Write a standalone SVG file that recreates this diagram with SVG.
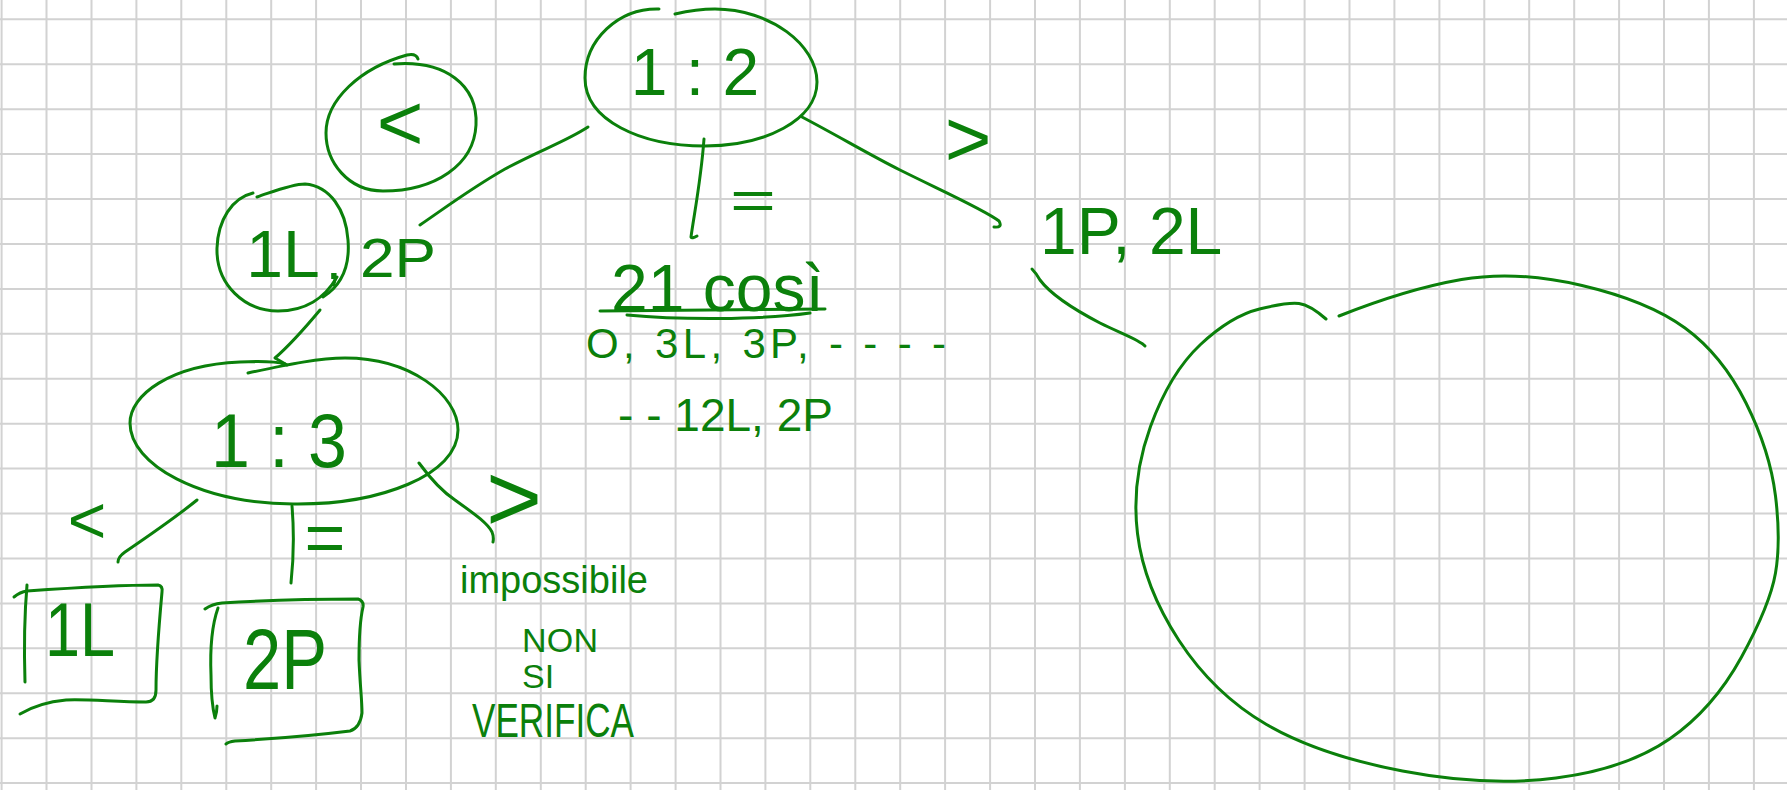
<svg xmlns="http://www.w3.org/2000/svg" width="1787" height="790" viewBox="0 0 1787 790">
<style>
.g{fill:none;stroke:#0b800b;stroke-width:3;stroke-linecap:round;stroke-linejoin:round}
.t{fill:#0b800b;font-family:"Liberation Sans",Arial,sans-serif}
.grid{stroke:#d2d2d2;stroke-width:2;fill:none}
</style>
<rect width="1787" height="790" fill="#ffffff"/>
<path class="grid" d="M1.6 0V790M46.5 0V790M91.5 0V790M136.4 0V790M181.3 0V790M226.3 0V790M271.2 0V790M316.1 0V790M361 0V790M406 0V790M450.9 0V790M495.8 0V790M540.8 0V790M585.7 0V790M630.6 0V790M675.6 0V790M720.5 0V790M765.4 0V790M810.3 0V790M855.3 0V790M900.2 0V790M945.1 0V790M990.1 0V790M1035 0V790M1079.9 0V790M1124.9 0V790M1169.8 0V790M1214.7 0V790M1259.6 0V790M1304.6 0V790M1349.5 0V790M1394.4 0V790M1439.4 0V790M1484.3 0V790M1529.2 0V790M1574.2 0V790M1619.1 0V790M1664 0V790M1708.9 0V790M1753.9 0V790M0 19.3H1787M0 64.2H1787M0 109.2H1787M0 154.1H1787M0 199H1787M0 244H1787M0 288.9H1787M0 333.8H1787M0 378.7H1787M0 423.7H1787M0 468.6H1787M0 513.5H1787M0 558.5H1787M0 603.4H1787M0 648.3H1787M0 693.3H1787M0 738.2H1787M0 783.1H1787"/>

<g id="connectors">
  <path class="g" d="M588,127 C565,142 540,150 505,169 C470,189 445,208 420,225"/>
  <path class="g" d="M704,139 C701,180 694,215 691,237 Q692,239 697,236"/>
  <path class="g" d="M802,117 C840,137 870,155 900,170 C940,190 985,210 999,221 Q1003,228 994,227"/>
  <path class="g" d="M320,310 C305,328 290,345 275,358 Q282,362 287,365"/>
  <path class="g" d="M1032,269 Q1036,273 1040,280 C1052,296 1075,310 1100,323 C1120,333 1140,340 1145,346"/>
  <path class="g" d="M197,500 C175,518 150,535 125,552 Q118,557 118,562"/>
  <path class="g" d="M292,506 C294,530 294,555 291,583"/>
  <path class="g" d="M419,463 C430,478 440,490 455,500 C470,511 487,522 492,532 Q494,537 493,542"/>
</g>

<g id="labels">
  <text class="t" x="753" y="219" font-size="56" text-anchor="middle" textLength="46" lengthAdjust="spacingAndGlyphs">=</text>
  <text class="t" x="968" y="166" font-size="80" text-anchor="middle">&gt;</text>
  <text class="t" x="87" y="543" font-size="66" text-anchor="middle">&lt;</text>
  <text class="t" x="325" y="562" font-size="70" text-anchor="middle">=</text>
  <text class="t" x="514" y="531" font-size="96" text-anchor="middle">&gt;</text>
</g>

<g id="node-1-2">
  <path class="g" d="M659,9 C618,8 585,40 585,78 C585,120 640,146 705,146 C765,146 817,120 817,82 C817,45 770,9 715,9 C700,9 688,11 675,14"/>
  <text class="t" x="695" y="95" font-size="66" text-anchor="middle">1 : 2</text>
</g>

<g id="node-less">
  <path class="g" d="M394,64 C445,60 478,85 476,125 C474,165 435,191 383,191 C348,191 326,162 326,133 C326,100 360,68 407,55 Q416,53 418,59"/>
  <text class="t" x="400" y="150" font-size="80" text-anchor="middle">&lt;</text>
</g>

<g id="node-1L-2P">
  <path class="g" d="M257,197 C275,191 292,184 305,184 C330,186 346,210 348,240 C350,265 342,285 323,297"/>
  <path class="g" d="M253,193 C232,198 218,220 217,248 C216,285 245,311 278,311 C305,311 325,298 337,277"/>
  <text class="t" x="283" y="277" font-size="66" text-anchor="middle">1L</text>
  <text class="t" x="326" y="279" font-size="56">,<tspan x="360" y="277" textLength="76" lengthAdjust="spacingAndGlyphs">2P</tspan></text>
</g>

<g id="node-equal-list">
  <text class="t" x="611" y="311" font-size="66">21 così</text>
  <path class="g" d="M600,311 C680,311 760,310 825,309"/>
  <path class="g" d="M627,315 C680,320 760,320 810,313"/>
  <text class="t" x="586" y="358" font-size="42" textLength="360">O, 3L, 3P, - - - -</text>
  <text class="t" x="618" y="431" font-size="46" textLength="215">- - 12L, 2P</text>
</g>

<g id="node-1P-2L">
  <text class="t" x="1040" y="254" font-size="66">1P, 2L</text>
</g>

<g id="node-big-circle">
  <path class="g" d="M1339,316 Q1407,289 1461.5,279.5 Q1516,270 1582,285.5 Q1648,301 1685,328 Q1722,355 1746,403 Q1770,451 1775.5,496 Q1781,541 1775.5,573 Q1770,605 1741.5,657 Q1713,709 1669.5,739 Q1626,769 1556,778 Q1486,787 1402.5,771 Q1319,755 1266.5,724.5 Q1214,694 1179,640.5 Q1144,587 1137.5,533.5 Q1131,480 1150.5,426.5 Q1170,373 1200.5,344.5 Q1231,316 1259.5,309 Q1288,302 1299,303.5 Q1310,305 1326,319"/>
</g>

<g id="node-1-3">
  <path class="g" d="M248,373 C290,364 320,358 345,358 C410,358 458,395 458,430 C458,475 380,505 293,504 C200,503 130,465 130,423 C130,395 170,365 240,362 C262,361 278,362 285,364"/>
  <text class="t" x="279" y="467" font-size="76" text-anchor="middle" textLength="136" lengthAdjust="spacingAndGlyphs">1 : 3</text>
</g>

<g id="node-box-1L">
  <path class="g" d="M14,597 Q20,592 27,591 C70,588 120,585 158,585 Q163,586 162,592 C159,625 156,660 156,690 Q156,702 146,702 C115,702 90,699 66,700 C45,702 30,708 20,714"/>
  <path class="g" d="M27,585 C24,620 24,650 25,682"/>
  <text class="t" x="45" y="656" font-size="76" textLength="70" lengthAdjust="spacingAndGlyphs">1L</text>
</g>

<g id="node-box-2P">
  <path class="g" d="M205,609 Q212,604 222,603 C270,600 320,599 358,599 Q364,601 363,607 C360,620 359,640 359,660 C360,685 362,700 362,713 Q360,728 350,731 C310,736 270,739 235,741 Q228,742 226,744"/>
  <path class="g" d="M218,608 C212,625 210,650 211,675 C211,695 213,710 215,718 Q217,712 217,706"/>
  <text class="t" x="243" y="689" font-size="86" textLength="84" lengthAdjust="spacingAndGlyphs">2P</text>
</g>

<g id="node-impossibile">
  <text class="t" x="460" y="593" font-size="38">impossibile</text>
  <text class="t" x="522" y="652" font-size="34" textLength="76">NON</text>
  <text class="t" x="522" y="688" font-size="34">SI</text>
  <text class="t" x="472" y="737" font-size="48" textLength="162" lengthAdjust="spacingAndGlyphs">VERIFICA</text>
</g>
</svg>
